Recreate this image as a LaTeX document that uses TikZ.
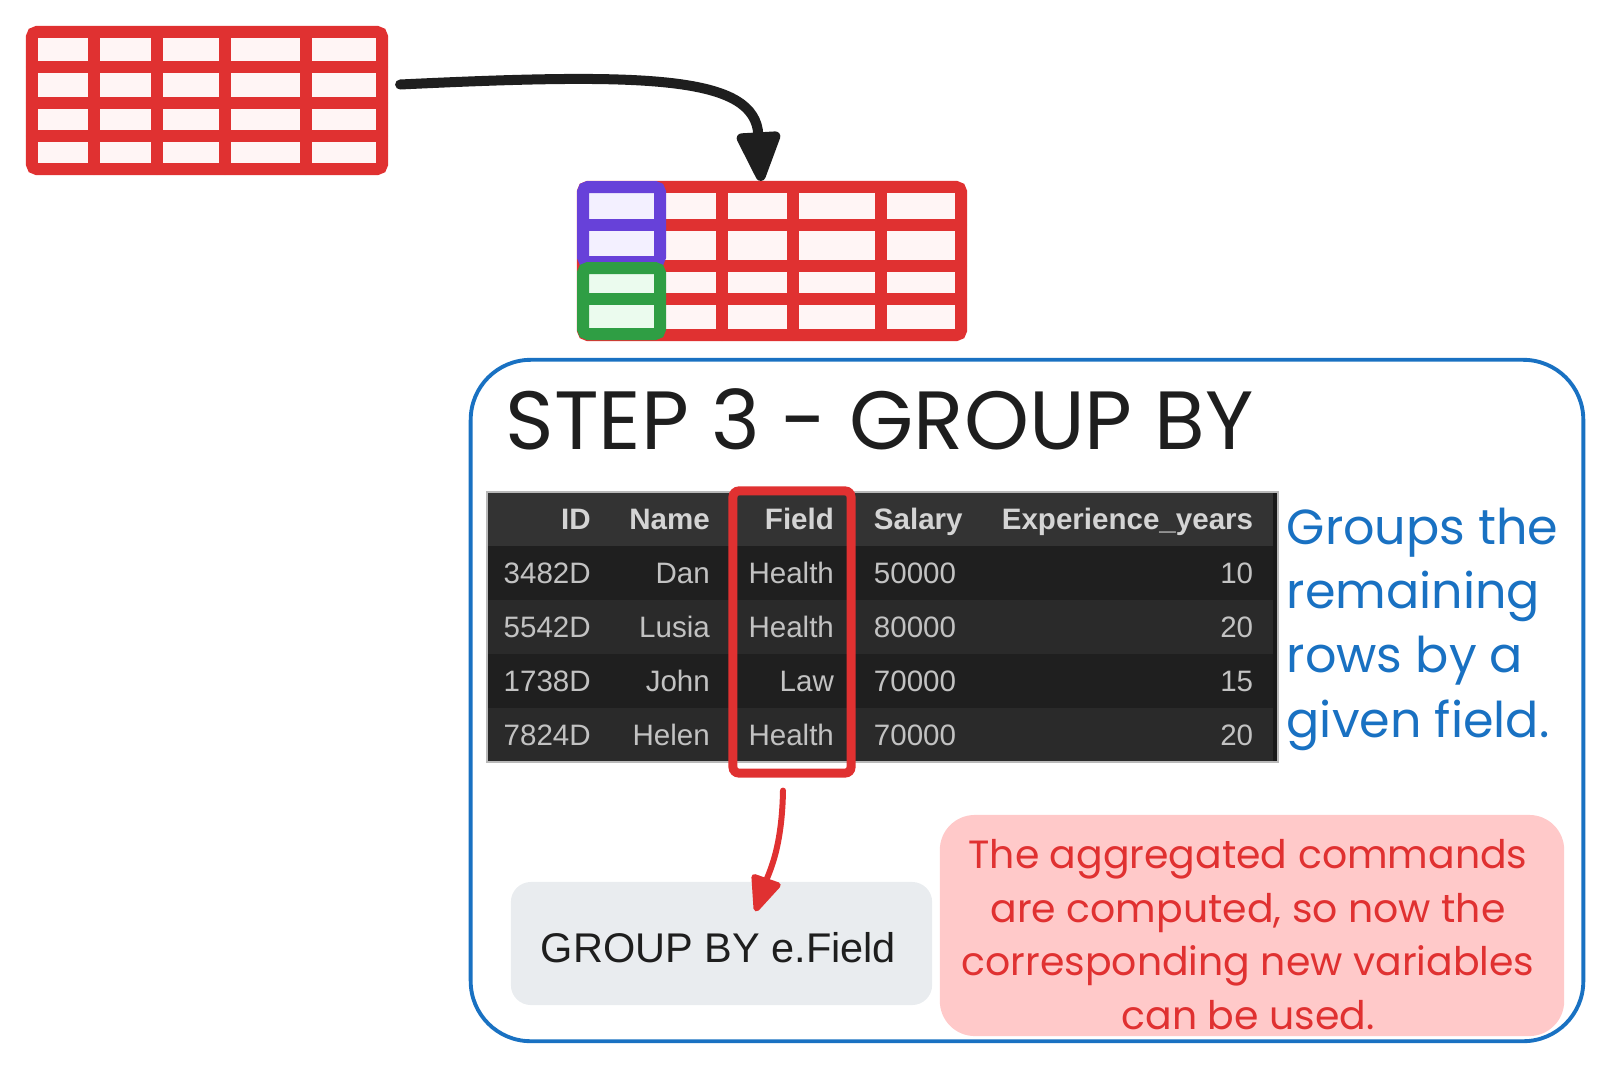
\documentclass[tikz,border=0pt]{standalone}
\usepackage{fontspec}
\usepackage{tikz}
\usetikzlibrary{arrows.meta, positioning, calc, matrix}
\newfontfamily\handfont{Poppins}
\newfontfamily\sqlfont{Liberation Sans}
\definecolor{exRed}{HTML}{E03131}
\definecolor{exPink}{HTML}{FFF5F5}
\definecolor{exViolet}{HTML}{6741D9}
\definecolor{exVioletBg}{HTML}{F3F0FF}
\definecolor{exGreen}{HTML}{2F9E44}
\definecolor{exGreenBg}{HTML}{EBFBEE}
\definecolor{exBlue}{HTML}{1971C2}
\definecolor{exNote}{HTML}{FFC9C9}
\definecolor{exGray}{HTML}{E9ECEF}
\definecolor{exInk}{HTML}{1E1E1E}
\definecolor{dfHead}{HTML}{333333}
\definecolor{dfRowA}{HTML}{1F1F1F}
\definecolor{dfRowB}{HTML}{2A2A2A}
\definecolor{dfHeadText}{HTML}{D4D4D4}
\definecolor{dfText}{HTML}{C2C2C2}

\begin{document}
\begin{tikzpicture}[x=0.01cm, y=-0.01cm,
    gridline/.style={exRed, line width=0.12cm, line cap=round},
    tablebox/.style={draw=exRed, fill=exPink, line width=0.12cm, rounded corners=0.05cm, inner sep=0},
    keybox/.style={line width=0.12cm, rounded corners=0.05cm}]
    \useasboundingbox (0,0) rectangle (1624,1072);

    % tabla de partida
    \node[tablebox, minimum width=3.5cm, minimum height=1.37cm] (tblA) at (207,100.5) {};
    \draw[gridline] (94,32) -- (94,169);
    \draw[gridline] (157,32) -- (157,169);
    \draw[gridline] (225,32) -- (225,169);
    \draw[gridline] (306,32) -- (306,169);
    \draw[gridline] (32,67) -- (382,67);
    \draw[gridline] (32,103) -- (382,103);
    \draw[gridline] (32,136) -- (382,136);

    % tabla agrupada
    \node[tablebox, minimum width=3.78cm, minimum height=1.48cm] (tblB) at (772,261) {};
    \draw[gridline] (722,187) -- (722,335);
    \draw[gridline] (793,187) -- (793,335);
    \draw[gridline] (881,187) -- (881,335);
    \draw[gridline] (583,225) -- (961,225);
    \draw[gridline] (583,266) -- (961,266);
    \draw[gridline] (583,299) -- (961,299);

    % grupos
    \draw[keybox, draw=exViolet, fill=exVioletBg] (583,187) rectangle (660,262);
    \draw[exViolet, line width=0.12cm] (583,225) -- (660,225);
    \draw[keybox, draw=exGreen, fill=exGreenBg] (583,268) rectangle (660,334);
    \draw[exGreen, line width=0.12cm] (583,299) -- (660,299);

    % flecha
    \draw[exInk, line width=0.1cm, line cap=round, -{Triangle[length=0.57cm, width=0.46cm, round]}]
      ($(tblA.east)+(12,-16)$) .. controls ($(tblA.east)+(262,-28)$) and ($(tblB.north)+(-17,-105)$)
      .. ($(tblB.north)+(-11,0)$);

    % marco del paso
    \node[draw=exBlue, line width=1.1pt, rounded corners=0.6cm, minimum width=11.12cm,
      minimum height=6.81cm, inner sep=0] (frame) at (1027,700.5) {};
    \node[font=\handfont\fontsize{23.5}{28}\selectfont, text=exInk, anchor=west, inner sep=0]
      (title) at (505,419) {STEP 3 - GROUP BY};

    % dataframe
    \fill[dfHead] (487,492) rectangle (1278,546);
    \fill[dfRowA] (487,546) rectangle (1278,600);
    \fill[dfRowB] (487,600) rectangle (1278,654);
    \fill[dfRowA] (487,654) rectangle (1278,708);
    \fill[dfRowB] (487,708) rectangle (1278,762);
    \fill[dfRowA!85!black] (1273,492) rectangle (1278,762);
    \draw[gray!55, line width=0.5pt] (487,492) rectangle (1278,762);

    \matrix (emp) [matrix of nodes, anchor=north west, inner sep=0, column sep=0, row sep=0,
      nodes={font=\sqlfont\fontsize{8.4}{10}\selectfont, text=dfText, minimum height=0.54cm,
        inner ysep=0, inner xsep=0, text height=0.72em, text depth=0em},
      column 1/.style={nodes={text width=1.03cm, align=right}},
      column 2/.style={nodes={text width=1.19cm, align=right}},
      column 3/.style={nodes={text width=1.24cm, align=right}},
      column 4/.style={nodes={text width=0.8cm, align=left, inner xsep=0.4cm}},
      column 5/.style={nodes={text width=2.59cm, align=right}},
      row 1/.style={nodes={font=\sqlfont\bfseries\fontsize{8.4}{10}\selectfont, text=dfHeadText}}]
      at (487,489) {
      ID & Name & Field & Salary & Experience\_years \\
      3482D & Dan & Health & 50000 & 10 \\
      5542D & Lusia & Health & 80000 & 20 \\
      1738D & John & Law & 70000 & 15 \\
      7824D & Helen & Health & 70000 & 20 \\
    };

    % columna de agrupacion
    \node[draw=exRed, line width=0.09cm, rounded corners=0.06cm, minimum width=1.18cm,
      minimum height=2.82cm, inner sep=0] (fieldbox) at (792,632) {};

    \node[font=\handfont\fontsize{14}{18.3}\selectfont, text=exBlue, align=left, anchor=west,
      inner sep=0] (remark) at (1286,629) {Groups the\\remaining\\rows by a\\given field.};

    % clausula sql
    \node[fill=exGray, rounded corners=0.2cm, minimum width=4.21cm, minimum height=1.23cm] (groupby)
      at (721.5,943.5) {};
    \node[font=\sqlfont\fontsize{11.8}{14}\selectfont, text=exInk] (groupbytext)
      at ($(groupby.center)+(-3,4)$) {GROUP BY e.Field};
    \draw[exRed, line width=0.06cm, line cap=round, -{Triangle[length=0.4cm, width=0.32cm, round]}]
      ($(fieldbox.south)+(-9,13)$) .. controls ($(fieldbox.south)+(-10,70)$) and ($(groupby.north)+(48,-10)$)
      .. ($(groupby.north)+(34,30)$);

    % nota
    \node[fill=exNote, rounded corners=0.35cm, minimum width=6.24cm, minimum height=2.21cm] (note)
      at (1252,925.5) {};
    \node[align=center, text=exRed, font=\handfont\fontsize{11.2}{15.2}\selectfont] (notetext)
      at ($(note.center)+(-4,9)$) {The aggregated commands\\are computed, so now the\\corresponding new variables\\can be used.};
\end{tikzpicture}
\end{document}
